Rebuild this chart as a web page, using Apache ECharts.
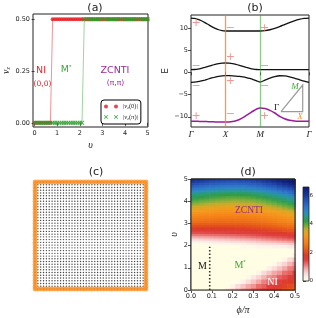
<!DOCTYPE html>
<html><head><meta charset="utf-8">
<script src="https://cdn.jsdelivr.net/npm/echarts@6/dist/echarts.min.js"></script>
<style>html,body{margin:0;padding:0;background:#fff}#c{width:316px;height:318px}</style>
</head><body><div id="c"></div>
<script>
// ---------- panel (a) ----------
const upsilon = [0,0.1,0.2,0.3,0.4,0.5,0.6,0.7,0.8,0.9,1,1.1,1.2,1.3,1.4,1.5,1.6,1.7,1.8,1.9,2,2.1,2.2,2.3,2.4,2.5,2.6,2.7,2.8,2.9,3,3.1,3.2,3.3,3.4,3.5,3.6,3.7,3.8,3.9,4,4.1,4.2,4.3,4.4,4.5,4.6,4.7,4.8,4.9,5];
const nuZero = [0,0,0,0,0,0,0,0,
  0.5,0.5,0.5,0.5,0.5,0.5,0.5,0.5,0.5,0.5,
  0.5,0.5,0.5,0.5,0.5,0.5,0.5,0.5,0.5,0.5,
  0.5,0.5,0.5,0.5,0.5,0.5,0.5,0.5,0.5,0.5,
  0.5,0.5,0.5,0.5,0.5,0.5,0.5,0.5,0.5,0.5,
  0.5,0.5,0.5];
const nuPi = [0,0,0,0,0,0,0,0,0,0,0,0,0,0,0,0,0,0,0,0,0,0,
  0.5,0.5,0.5,0.5,0.5,0.5,0.5,0.5,0.5,0.5,
  0.5,0.5,0.5,0.5,0.5,0.5,0.5,0.5,0.5,0.5,
  0.5,0.5,0.5,0.5,0.5,0.5,0.5,0.5,0.5];
const seriesNames = ['|νz(0)|','|νz(π)|'];
const legendLabels = ['|{i|ν}{s|z}(0)|','|{i|ν}{s|z}(π)|'];
const aTicksX = [0,1,2,3,4,5];
const aTicksY = [0,0.25,0.5];

// ---------- panel (b) ----------
const kPath = [0,0.1,0.2,0.3,0.4,0.5,0.6,0.7,0.8,0.9,1,1.1,1.2,1.3,1.4,1.5,1.6,1.7,1.8,1.9,2,2.141,2.283,2.424,2.566,2.707,2.849,2.99,3.131,3.273,3.414];
const band1 = [12.2,12.13,11.92,11.6,11.2,10.75,10.3,9.9,9.58,9.37,9.3,9.3,9.3,9.3,9.3,9.3,9.3,9.3,9.3,9.3,9.3,9.37,9.58,9.9,10.3,10.75,11.2,11.6,11.92,12.13,12.2];
const band2 = [0.6,0.64,0.74,0.91,1.12,1.35,1.58,1.79,1.96,2.06,2.1,2.06,1.96,1.79,1.58,1.35,1.12,0.91,0.74,0.64,0.6,0.6,0.6,0.6,0.6,0.6,0.6,0.6,0.6,0.6,0.6];
const band3 = [-2.25,-2.21,-2.11,-1.94,-1.73,-1.5,-1.27,-1.06,-0.89,-0.79,-0.75,-0.76,-0.79,-0.84,-0.92,-1.03,-1.18,-1.38,-1.62,-1.9,-2.2,-1.75,-1.3,-0.95,-0.77,-0.8,-1.0,-1.3,-1.65,-2.0,-2.25];
const band4 = [-11.0,-11.0,-11.02,-11.05,-11.08,-11.1,-11.13,-11.15,-11.18,-11.2,-11.2,-11.17,-11.08,-10.9,-10.6,-10.2,-9.7,-9.2,-8.7,-8.25,-8.0,-8.15,-8.55,-9.15,-9.9,-10.45,-10.8,-10.95,-11.0,-11.0,-11.0];
const kTickValues = [0,1,2,3.414];
const kTickLabels = ['Γ','X','M','Γ'];
const eTicks = [-10,-5,0,5,10];
const highSymK = [1,2];
const parityK = [0.15,0.15,0.15,0.15,1.14,1.14,1.14,1.14,2.13,2.13,2.13,2.13];
const parityE = [11.1,1.35,-3.0,-9.9,9.96,3.45,-2.0,-9.5,9.96,1.35,-3.0,-9.9];
const paritySign = ['+','−','−','+','−','+','+','−','+','−','−','+'];

// ---------- panel (c) ----------
const latticeN = 40;

// ---------- panel (d) ----------
const phiValues = [0,0.025,0.05,0.075,0.1,0.125,0.15,0.175,0.2,0.225,0.25,0.275,0.3,0.325,0.35,0.375,0.4,0.425,0.45,0.475,0.5];
const vValues = [0,0.2,0.4,0.6,0.8,1,1.2,1.4,1.6,1.8,2,2.1,2.2,2.3,2.4,2.5,2.6,2.7,2.8,2.9,3,3.1,3.2,3.3,3.4,3.5,3.6,3.7,3.8,3.9,4,4.1,4.2,4.3,4.4,4.5,4.6,4.7,4.8,4.9,5];
const gapGrid = [
 [0,0,0,0,0,0,0,0.4,0.6,0.8,1.0,1.1,1.3,1.4,1.6,1.7,1.8,1.9,2.1,2.2,2.3],
 [0,0,0,0,0,0,0,0,0.2,0.5,0.7,0.9,1.0,1.2,1.3,1.5,1.6,1.7,1.9,2.0,2.1],
 [0,0,0,0,0,0,0,0,0,0,0.3,0.5,0.7,0.9,1.1,1.2,1.4,1.5,1.7,1.8,1.9],
 [0,0,0,0,0,0,0,0,0,0,0,0.1,0.4,0.6,0.8,1.0,1.1,1.3,1.4,1.6,1.7],
 [0,0,0,0,0,0,0,0,0,0,0,0,0,0.2,0.5,0.7,0.9,1.0,1.2,1.3,1.5],
 [0,0,0,0,0,0,0,0,0,0,0,0,0,0,0,0.3,0.5,0.7,0.9,1.1,1.2],
 [0,0,0,0,0,0,0,0,0,0,0,0,0,0,0,0,0.1,0.4,0.6,0.8,1.0],
 [0,0,0,0,0,0,0,0,0,0,0,0,0,0,0,0,0,0,0.2,0.5,0.7],
 [0,0,0,0,0,0,0,0,0,0,0,0,0,0,0,0,0,0,0,0,0.3],
 [0,0,0,0,0,0,0,0,0,0,0,0,0,0,0,0,0,0,0,0,0],
 [0,0,0,0,0,0,0,0,0,0,0.1,0.1,0.1,0.2,0.2,0.2,0.3,0.3,0.3,0.4,0.4],
 [0,0.03,0.06,0.09,0.12,0.15,0.18,0.21,0.24,0.28,0.32,0.36,0.4,0.44,0.48,0.51,0.55,0.59,0.63,0.67,0.7],
 [0.25,0.29,0.31,0.33,0.37,0.4,0.43,0.46,0.5,0.54,0.57,0.61,0.65,0.7,0.74,0.78,0.82,0.87,0.91,0.96,1.0],
 [0.55,0.59,0.62,0.65,0.66,0.69,0.72,0.75,0.78,0.81,0.85,0.88,0.92,0.96,1.02,1.06,1.11,1.15,1.19,1.24,1.28],
 [0.85,0.89,0.91,0.92,0.95,0.97,1.0,1.02,1.05,1.08,1.1,1.13,1.17,1.21,1.25,1.28,1.33,1.37,1.42,1.48,1.53],
 [1.15,1.17,1.18,1.19,1.21,1.22,1.24,1.26,1.28,1.31,1.33,1.36,1.4,1.44,1.48,1.53,1.56,1.62,1.67,1.71,1.75],
 [1.4,1.41,1.42,1.44,1.45,1.46,1.47,1.49,1.51,1.53,1.54,1.57,1.6,1.63,1.66,1.71,1.75,1.8,1.84,1.9,1.95],
 [1.65,1.66,1.67,1.67,1.66,1.66,1.67,1.68,1.69,1.7,1.73,1.76,1.78,1.82,1.86,1.91,1.94,2.0,2.06,2.1,2.15],
 [1.85,1.85,1.84,1.85,1.84,1.84,1.84,1.85,1.86,1.88,1.89,1.92,1.95,1.99,2.02,2.07,2.12,2.18,2.23,2.29,2.35],
 [2.05,2.05,2.04,2.03,2.03,2.02,2.03,2.03,2.04,2.05,2.07,2.09,2.13,2.16,2.21,2.26,2.3,2.36,2.44,2.49,2.54],
 [2.25,2.24,2.23,2.22,2.21,2.21,2.21,2.21,2.21,2.22,2.23,2.26,2.29,2.32,2.36,2.42,2.47,2.53,2.58,2.64,2.71],
 [2.45,2.43,2.41,2.39,2.39,2.38,2.37,2.37,2.37,2.38,2.39,2.42,2.43,2.48,2.52,2.57,2.62,2.69,2.76,2.83,2.89],
 [2.63,2.61,2.59,2.56,2.54,2.53,2.53,2.52,2.51,2.52,2.53,2.56,2.59,2.63,2.67,2.73,2.79,2.85,2.92,2.99,3.06],
 [2.8,2.77,2.75,2.72,2.71,2.69,2.68,2.67,2.68,2.67,2.69,2.71,2.74,2.78,2.82,2.88,2.94,3.0,3.08,3.16,3.23],
 [2.98,2.95,2.92,2.89,2.86,2.84,2.84,2.83,2.82,2.82,2.83,2.85,2.88,2.92,2.96,3.02,3.08,3.15,3.22,3.3,3.38],
 [3.15,3.11,3.06,3.03,3.02,2.99,2.97,2.95,2.95,2.95,2.95,2.98,3.01,3.06,3.1,3.16,3.21,3.29,3.37,3.45,3.54],
 [3.3,3.26,3.22,3.18,3.15,3.12,3.1,3.08,3.07,3.07,3.08,3.1,3.15,3.19,3.24,3.3,3.38,3.46,3.54,3.62,3.71],
 [3.45,3.41,3.37,3.34,3.3,3.27,3.25,3.23,3.23,3.23,3.24,3.26,3.3,3.35,3.41,3.47,3.54,3.62,3.7,3.8,3.89],
 [3.63,3.58,3.54,3.5,3.47,3.43,3.41,3.39,3.38,3.38,3.4,3.42,3.46,3.5,3.56,3.63,3.7,3.78,3.87,3.96,4.06],
 [3.8,3.75,3.7,3.66,3.62,3.59,3.56,3.54,3.54,3.54,3.55,3.57,3.61,3.66,3.72,3.79,3.86,3.95,4.04,4.14,4.24],
 [3.98,3.93,3.87,3.83,3.79,3.75,3.72,3.7,3.69,3.7,3.71,3.73,3.77,3.82,3.88,3.95,4.03,4.12,4.21,4.31,4.41],
 [4.15,4.09,4.03,3.99,3.94,3.9,3.87,3.85,3.84,3.84,3.85,3.87,3.91,3.96,4.03,4.1,4.18,4.28,4.38,4.49,4.61],
 [4.33,4.27,4.21,4.15,4.1,4.07,4.03,4.01,3.99,4.0,4.02,4.04,4.09,4.15,4.22,4.3,4.39,4.49,4.6,4.72,4.84],
 [4.5,4.44,4.39,4.33,4.28,4.25,4.22,4.2,4.19,4.19,4.2,4.24,4.29,4.35,4.43,4.51,4.6,4.71,4.82,4.94,5.08],
 [4.73,4.66,4.6,4.55,4.5,4.46,4.43,4.4,4.38,4.38,4.4,4.43,4.49,4.55,4.63,4.72,4.83,4.94,5.06,5.2,5.33],
 [4.95,4.89,4.82,4.77,4.72,4.68,4.65,4.63,4.62,4.62,4.63,4.67,4.73,4.8,4.88,4.97,5.07,5.19,5.32,5.45,5.59],
 [5.2,5.13,5.07,5.0,4.96,4.91,4.88,4.85,4.83,4.83,4.86,4.89,4.95,5.01,5.1,5.2,5.31,5.45,5.58,5.72,5.86],
 [5.45,5.38,5.32,5.25,5.21,5.16,5.13,5.11,5.1,5.1,5.11,5.16,5.21,5.29,5.37,5.48,5.59,5.72,5.86,6.0,6.15],
 [5.73,5.65,5.58,5.52,5.46,5.42,5.38,5.36,5.34,5.34,5.37,5.4,5.46,5.54,5.63,5.73,5.86,6.0,6.15,6.29,6.45],
 [6.0,5.93,5.86,5.79,5.73,5.69,5.66,5.63,5.62,5.63,5.65,5.68,5.74,5.82,5.92,6.02,6.15,6.29,6.44,6.59,6.75],
 [6.3,6.23,6.16,6.08,6.02,5.97,5.94,5.91,5.9,5.9,5.92,5.95,6.01,6.09,6.19,6.3,6.43,6.58,6.74,6.89,7.05]
];
const phiTicks = [0,0.1,0.2,0.3,0.4,0.5];
const vTicks = [0,1,2,3,4,5];
const cbTicks = [0,2,4,6];
const gapMax = 6.6;
const mBoundaryPhi = [0.09,0.09];
const mBoundaryV = [0,1.95];
const gapColors = ['#fffee4','#fdf0ea','#f9d4d2','#f2a9a8','#e9706d','#df4040','#dc3a2a','#e5531e','#ee6b18','#f47f18','#f5901c','#eea020','#c9aa2a','#6eab3a','#2f9c4a','#2a9a82','#2c8cbc','#2f78c8','#2a62c0','#2050b0','#18389a','#122888','#0c1a70'];

// ---------- build ----------
const SANS = "'DejaVu Sans', sans-serif";
const SERIF = "'Liberation Serif', 'DejaVu Serif', serif";
const INK = '#222';
const RED = '#e8252b', GREEN = '#3aaa35', PURPLE = '#9b2a9b', ORANGE = '#ff8c1a';
const XSYM = 'path://M0,0.6L0.6,0L2,1.4L3.4,0L4,0.6L2.6,2L4,3.4L3.4,4L2,2.6L0.6,4L0,3.4L1.4,2Z';

function axis(gi, min, max, ticks, fmt, extra, labelExtra) {
  const a = {
    gridIndex: gi, type: 'value', min: min, max: max,
    axisLine: {show: false}, splitLine: {show: false},
    axisTick: {show: true, length: 3, customValues: ticks, lineStyle: {color: INK, width: 0.8}},
    axisLabel: Object.assign({show: true, customValues: ticks, formatter: fmt, fontSize: 6.5, color: INK, fontFamily: SANS, margin: 3}, labelExtra || {})
  };
  return Object.assign(a, extra || {});
}
function hidden(gi, min, max) {
  return {gridIndex: gi, type: 'value', min: min, max: max, show: false, splitLine: {show: false}};
}
function txt(x, y, text, fill, font, extra) {
  return Object.assign({type: 'text', x: x, y: y, z: 100, silent: true,
    style: Object.assign({text: text, fill: fill, font: font, align: 'center', verticalAlign: 'middle',
      textAlign: 'center', textVerticalAlign: 'middle'}, (extra || {}))});
}
const intLabel = v => { const n = Math.round(Number(v)); return n < 0 ? '−' + (-n) : String(n); };

const latticeDots = [], latticeEdge = [];
for (let i = 0; i < latticeN; i++) for (let j = 0; j < latticeN; j++) {
  latticeDots.push([i, j]);
  if (i === 0 || j === 0 || i === latticeN - 1 || j === latticeN - 1) latticeEdge.push([i, j]);
}
const heatData = [];
vValues.forEach((v, j) => phiValues.forEach((p, i) => heatData.push([p, v, gapGrid[j][i]])));
const nPhi = phiValues.length, nV = vValues.length;
const mid = (arr, k) => (arr[k] + arr[k + 1]) / 2;

function renderCell(params, api) {
  const idx = params.dataIndex, j = Math.floor(idx / nPhi), i = idx % nPhi;
  const x0 = i === 0 ? phiValues[0] : mid(phiValues, i - 1);
  const x1 = i === nPhi - 1 ? phiValues[nPhi - 1] : mid(phiValues, i);
  const y0 = j === 0 ? vValues[0] : mid(vValues, j - 1);
  const y1 = j === nV - 1 ? vValues[nV - 1] : mid(vValues, j);
  const a = api.coord([x0, y1]), b = api.coord([x1, y0]);
  return {type: 'rect', shape: {x: a[0], y: a[1], width: b[0] - a[0] + 0.6, height: b[1] - a[1] + 0.6},
    style: {fill: api.visual('color')}};
}

const bandStyle = (c, w) => ({type: 'line', xAxisIndex: 1, yAxisIndex: 1, symbol: 'none', smooth: 0.25,
  lineStyle: {color: c, width: w}, z: 4});
const titleStyle = {fontSize: 11, fontWeight: 'normal', fontFamily: SANS, color: INK};

const option = {
  animation: false,
  backgroundColor: '#fff',
  title: [
    {text: '(a)', left: 90, top: -2, textAlign: 'center', textStyle: titleStyle},
    {text: '(b)', left: 250, top: -2, textAlign: 'center', textStyle: titleStyle},
    {text: '(c)', left: 91, top: 162, textAlign: 'center', textStyle: titleStyle},
    {text: '(d)', left: 243, top: 162, textAlign: 'center', textStyle: titleStyle}
  ],
  grid: [
    {left: 33, top: 14, width: 115, height: 113, show: true, borderColor: INK, borderWidth: 1},
    {left: 191, top: 15, width: 118, height: 112, show: true, borderColor: INK, borderWidth: 1},
    {left: 35, top: 182, width: 111, height: 107, show: false},
    {left: 191, top: 179, width: 104, height: 111, show: true, borderColor: INK, borderWidth: 1},
    {left: 303, top: 187, width: 6, height: 94, show: false}
  ],
  legend: {
    data: [{name: seriesNames[0], icon: 'path://M0,2a2,2 0 1,0 4,0a2,2 0 1,0 -4,0ZM10,2a2,2 0 1,0 4,0a2,2 0 1,0 -4,0Z'},
           {name: seriesNames[1], icon: 'path://M0,0.6L0.6,0L2,1.4L3.4,0L4,0.6L2.6,2L4,3.4L3.4,4L2,2.6L0.6,4L0,3.4L1.4,2ZM10,0.6L10.6,0L12,1.4L13.4,0L14,0.6L12.6,2L14,3.4L13.4,4L12,2.6L10.6,4L10,3.4L11.4,2Z'}],
    orient: 'vertical', left: 101, top: 100, itemWidth: 14, itemHeight: 4, itemGap: 3,
    padding: [3, 3, 3, 3], borderColor: '#000', borderWidth: 1, borderRadius: 3, backgroundColor: '#fff',
    selectedMode: false,
    formatter: name => legendLabels[seriesNames.indexOf(name)],
    textStyle: {fontSize: 6.5, fontFamily: SERIF, color: INK,
      rich: {i: {fontSize: 6.5, fontStyle: 'italic', fontFamily: SERIF, color: INK},
             s: {fontSize: 4.5, fontStyle: 'italic', fontFamily: SERIF, color: INK, padding: [3, 0, 0, 0]}}}
  },
  xAxis: [
    axis(0, -0.07, 5.02, aTicksX, intLabel, {name: 'υ', nameLocation: 'middle', nameGap: 13,
      nameTextStyle: {fontSize: 10, fontStyle: 'italic', fontFamily: SERIF, color: INK}}),
    axis(1, 0, 3.414, kTickValues, v => kTickLabels[kTickValues.indexOf(Number(v))], {},
      {fontSize: 9, fontStyle: 'italic', fontFamily: SERIF, margin: 3}),
    hidden(2, 0, latticeN - 1),
    axis(3, 0, 0.5, phiTicks, v => Number(v).toFixed(1), {name: 'ϕ/π', nameLocation: 'middle', nameGap: 15,
      nameTextStyle: {fontSize: 10, fontStyle: 'italic', fontFamily: SERIF, color: INK}}),
    hidden(4, 0, 1)
  ],
  yAxis: [
    axis(0, -0.02, 0.525, aTicksY, v => Number(v).toFixed(2), {name: '{i|ν}{s|z}', nameLocation: 'middle', nameGap: 19, nameRotate: 90,
      nameTextStyle: {rich: {i: {fontSize: 10, fontStyle: 'italic', fontFamily: SERIF, color: INK},
                             s: {fontSize: 6, fontStyle: 'italic', fontFamily: SERIF, color: INK, padding: [5, 0, 0, 0]}}}}),
    axis(1, -12.3, 12.9, eTicks, intLabel, {name: 'E', nameLocation: 'middle', nameGap: 19, nameRotate: 90,
      nameTextStyle: {fontSize: 9, fontFamily: SANS, color: INK}}),
    hidden(2, 0, latticeN - 1),
    axis(3, 0, 5, vTicks, intLabel, {name: 'υ', nameLocation: 'middle', nameGap: 12, nameRotate: 90,
      nameTextStyle: {fontSize: 10, fontStyle: 'italic', fontFamily: SERIF, color: INK}}),
    axis(4, 0, gapMax, cbTicks, intLabel, {position: 'right'}, {fontSize: 5.5, margin: 2})
  ],
  visualMap: {type: 'continuous', show: false, min: 0, max: gapMax, dimension: 2, seriesIndex: 9,
    inRange: {color: gapColors}},
  series: [
    {type: 'line', name: seriesNames[0], xAxisIndex: 0, yAxisIndex: 0,
     data: upsilon.map((u, i) => [u, nuZero[i]]), symbol: 'circle', symbolSize: 4, showAllSymbol: true,
     itemStyle: {color: RED, opacity: 0.85}, lineStyle: {color: 'rgba(232,37,43,0.5)', width: 1}, z: 3},
    {type: 'line', name: seriesNames[1], xAxisIndex: 0, yAxisIndex: 0,
     data: upsilon.map((u, i) => [u, nuPi[i]]), symbol: XSYM, symbolSize: 4.5, showAllSymbol: true,
     itemStyle: {color: '#2ca02c', opacity: 0.9}, lineStyle: {color: 'rgba(44,160,44,0.45)', width: 1}, z: 4},
    Object.assign(bandStyle('#111', 1.3), {data: kPath.map((k, i) => [k, band1[i]]),
      markLine: {silent: true, symbol: ['none', 'none'], label: {show: false},
        data: highSymK.map((k, i) => ({xAxis: k, lineStyle: {type: 'solid', width: 1.3,
          color: i === 0 ? 'rgba(255,127,14,0.8)' : 'rgba(44,160,44,0.55)'}}))}}),
    Object.assign(bandStyle('#111', 1.3), {data: kPath.map((k, i) => [k, band2[i]])}),
    Object.assign(bandStyle('#111', 1.3), {data: kPath.map((k, i) => [k, band3[i]])}),
    Object.assign(bandStyle('#9b1c9b', 1.5), {data: kPath.map((k, i) => [k, band4[i]])}),
    {type: 'scatter', xAxisIndex: 1, yAxisIndex: 1, symbolSize: 1, itemStyle: {color: 'rgba(0,0,0,0)'},
     data: parityK.map((k, i) => ({value: [k, parityE[i]], name: paritySign[i]})), z: 6, silent: true,
     label: {show: true, position: 'inside', formatter: p => p.name, fontSize: 11, fontFamily: SANS, color: '#f07a7a'}},
    {type: 'scatter', xAxisIndex: 2, yAxisIndex: 2, data: latticeDots, symbolSize: 1.4,
     itemStyle: {color: '#111'}, silent: true, z: 2},
    {type: 'scatter', xAxisIndex: 2, yAxisIndex: 2, data: latticeEdge, symbolSize: 4.8,
     itemStyle: {color: 'rgba(255,140,26,0.9)'}, silent: true, z: 3},
    {type: 'custom', xAxisIndex: 3, yAxisIndex: 3, data: heatData, renderItem: renderCell,
     encode: {x: 0, y: 1}, z: 1, silent: true},
    {type: 'line', xAxisIndex: 3, yAxisIndex: 3, data: mBoundaryPhi.map((p, i) => [p, mBoundaryV[i]]),
     symbol: 'none', lineStyle: {type: [1.5, 2], color: '#333', width: 1.6}, z: 5, silent: true}
  ],
  graphic: [
    txt(41, 71, 'NI', RED, '9.5px ' + SANS),
    txt(42.5, 84, '(0,0)', RED, '7.5px ' + SANS),
    txt(66, 70, 'M{sup|*}', GREEN, '9.5px ' + SANS, {rich: {sup: {fontSize: 6, fill: GREEN, padding: [0, 0, 5, 0]}}}),
    txt(115, 71, 'ZCNTI', PURPLE, '9.5px ' + SANS),
    txt(115.5, 83, '(π,π)', PURPLE, '7.5px ' + SANS),
    {type: 'polyline', z: 50, silent: true, shape: {points: [[281, 111.7], [302.7, 111.7], [302.7, 85], [281, 111.7]]},
     style: {stroke: '#9a9a9a', lineWidth: 1.2, fill: null}},
    txt(276.5, 107.5, 'Γ', '#111', '9px ' + SERIF),
    txt(295, 87, 'M', GREEN, 'italic 9px ' + SERIF),
    txt(300, 117, 'X', ORANGE, 'italic 9px ' + SERIF),
    txt(249, 210, 'ZCNTI', '#8e2a8e', '9.5px ' + SERIF),
    txt(202.5, 266, 'M', '#111', '10px ' + SERIF),
    txt(240, 265, 'M{sup|*}', GREEN, '10px ' + SERIF, {rich: {sup: {fontSize: 6, fill: GREEN, padding: [0, 0, 5, 0]}}}),
    txt(272.5, 282, 'NI', '#fff', '10px ' + SERIF),
    {type: 'rect', z: 60, silent: true, shape: {x: 191, y: 179, width: 104, height: 111},
     style: {fill: null, stroke: INK, lineWidth: 1}},
    {type: 'rect', z: 1, silent: true, shape: {x: 303, y: 187, width: 6, height: 94},
     style: {fill: new echarts.graphic.LinearGradient(0, 1, 0, 0,
        gapColors.map((c, i) => ({offset: i / (gapColors.length - 1), color: c}))),
       stroke: INK, lineWidth: 0.8}}
  ]
};

const chart = echarts.init(document.getElementById('c'), null, {renderer: 'canvas'});
chart.setOption(option);
</script></body></html>
